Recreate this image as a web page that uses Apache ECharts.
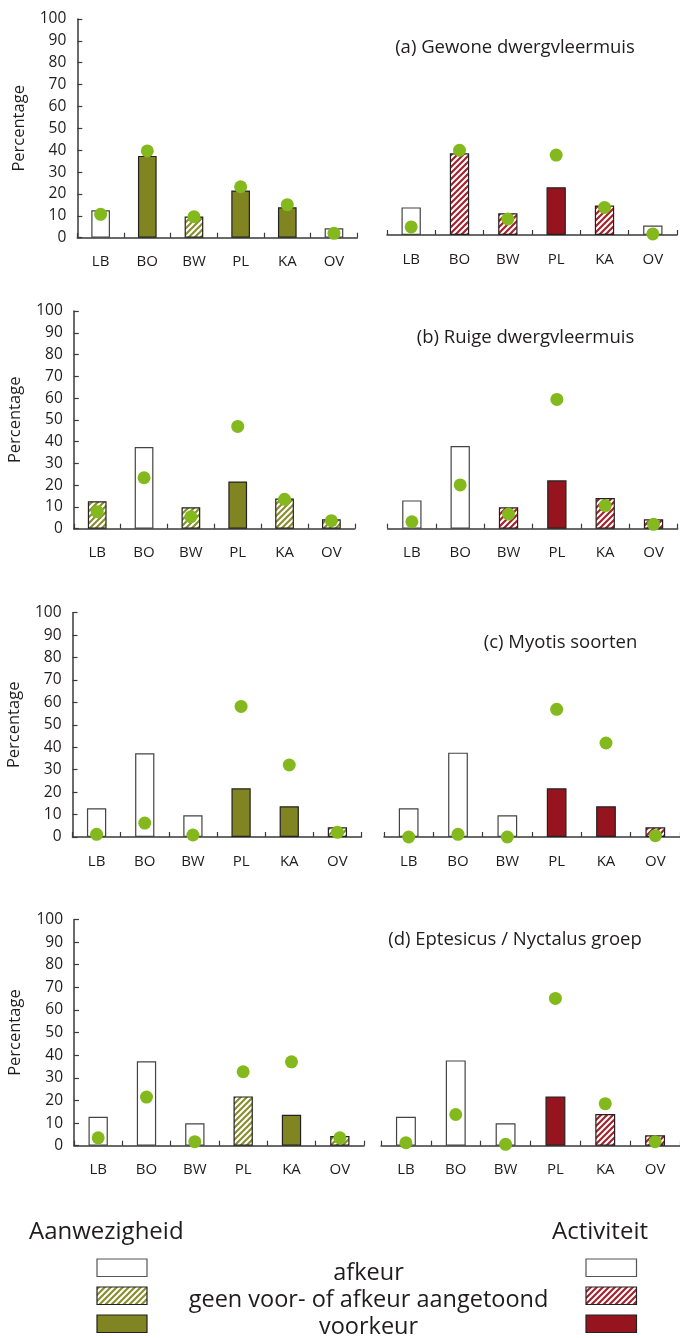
<!DOCTYPE html>
<html>
<head>
<meta charset="utf-8">
<script src="https://cdn.jsdelivr.net/npm/echarts@6/dist/echarts.min.js"></script>
<style>
html,body{margin:0;padding:0;background:#fff;}
#chart{width:680px;height:1338px;}
</style>
</head>
<body>
<div id="chart"></div>
<script>
// ---------- DATA ----------
const categories = ['LB', 'BO', 'BW', 'PL', 'KA', 'OV'];
const yTicks = [0, 10, 20, 30, 40, 50, 60, 70, 80, 90, 100];
const panelTitles = ['(a) Gewone dwergvleermuis', '(b) Ruige dwergvleermuis', '(c) Myotis soorten', '(d) Eptesicus / Nyctalus groep'];
// class codes: 0 = afkeur, 1 = geen voor- of afkeur aangetoond, 2 = voorkeur

// (a) Gewone dwergvleermuis
const aAanwBars  = [12.5, 37.4, 9.7, 21.6, 13.9, 4.3];
const aAanwDots  = [10.7, 39.7, 9.6, 23.3, 15.1, 2.0];
const aAanwClass = [0, 2, 1, 2, 2, 0];
const aActBars   = [12.6, 37.3, 9.9, 21.8, 13.5, 4.3];
const aActDots   = [3.7, 38.7, 7.3, 36.5, 12.6, 0.5];
const aActClass  = [0, 1, 1, 2, 1, 0];

// (b) Ruige dwergvleermuis
const bAanwBars  = [12.6, 37.5, 9.8, 21.7, 13.9, 4.3];
const bAanwDots  = [7.8, 23.4, 5.5, 47.0, 13.5, 3.7];
const bAanwClass = [1, 0, 1, 2, 1, 1];
const bActBars   = [13.0, 38.0, 9.8, 22.2, 14.1, 4.3];
const bActDots   = [3.2, 20.1, 6.7, 59.4, 10.6, 2.0];
const bActClass  = [0, 0, 1, 2, 1, 1];

// (c) Myotis soorten
const cAanwBars  = [12.8, 37.3, 9.7, 21.7, 13.7, 4.3];
const cAanwDots  = [1.2, 6.2, 0.9, 58.2, 32.1, 2.1];
const cAanwClass = [0, 0, 0, 2, 2, 1];
const cActBars   = [12.8, 37.6, 9.7, 21.7, 13.7, 4.3];
const cActDots   = [0.0, 1.2, 0.0, 56.9, 41.9, 0.6];
const cActClass  = [0, 0, 0, 2, 2, 1];

// (d) Eptesicus / Nyctalus groep
const dAanwBars  = [12.8, 37.3, 9.9, 21.8, 13.7, 4.3];
const dAanwDots  = [3.5, 21.5, 1.8, 32.7, 37.1, 3.5];
const dAanwClass = [0, 0, 0, 1, 2, 1];
const dActBars   = [12.8, 37.7, 9.9, 21.8, 14.0, 4.6];
const dActDots   = [1.3, 13.8, 0.6, 65.1, 18.6, 1.8];
const dActClass  = [0, 0, 0, 2, 1, 1];

const legendLabels = ['afkeur', 'geen voor- of afkeur aangetoond', 'voorkeur'];
const legendHeads = ['Aanwezigheid', 'Activiteit'];

// ---------- STYLE ----------
const FONT = '"Open Sans", sans-serif';
const TXT = '#1f1c1d';
const OLIVE = '#808421';
const RED = '#96141e';
const DOT = '#84b91d';
const AXIS = '#3a3a3a';

function hatch(color) {
  const s = 6;
  const c = document.createElement('canvas');
  c.width = s; c.height = s;
  const ctx = c.getContext('2d');
  ctx.fillStyle = '#fff';
  ctx.fillRect(0, 0, s, s);
  ctx.strokeStyle = color;
  ctx.lineWidth = 2.2;
  ctx.beginPath();
  ctx.moveTo(-1, 1); ctx.lineTo(1, -1);
  ctx.moveTo(0, s); ctx.lineTo(s, 0);
  ctx.moveTo(s - 1, s + 1); ctx.lineTo(s + 1, s - 1);
  ctx.stroke();
  return c;
}
const oliveHatch = { image: hatch('#8a8e2e'), repeat: 'repeat' };
const redHatch = { image: hatch('#a4222c'), repeat: 'repeat' };

const fills = {
  aanw: ['#ffffff', oliveHatch, OLIVE],
  act: ['#ffffff', redHatch, RED]
};

// panel layout (pixel geometry)
const panels = [
  { g: { left: 77.3, top: 19, width: 280, height: 218.7 }, bars: aAanwBars, dots: aAanwDots, cls: aAanwClass, kind: 'aanw', yAxis: true },
  { g: { left: 387, top: 16, width: 290, height: 219 }, bars: aActBars, dots: aActDots, cls: aActClass, kind: 'act', yAxis: false },
  { g: { left: 73.8, top: 311, width: 281, height: 217.7 }, bars: bAanwBars, dots: bAanwDots, cls: bAanwClass, kind: 'aanw', yAxis: true },
  { g: { left: 387.7, top: 311, width: 290, height: 217.7 }, bars: bActBars, dots: bActDots, cls: bActClass, kind: 'act', yAxis: false },
  { g: { left: 72.5, top: 612.7, width: 289, height: 224.3 }, bars: cAanwBars, dots: cAanwDots, cls: cAanwClass, kind: 'aanw', yAxis: true },
  { g: { left: 384, top: 612.7, width: 297, height: 224.3 }, bars: cActBars, dots: cActDots, cls: cActClass, kind: 'act', yAxis: false },
  { g: { left: 74, top: 919.5, width: 290, height: 226.2 }, bars: dAanwBars, dots: dAanwDots, cls: dAanwClass, kind: 'aanw', yAxis: true },
  { g: { left: 381, top: 919.5, width: 300, height: 226.2 }, bars: dActBars, dots: dActDots, cls: dActClass, kind: 'act', yAxis: false }
];

const grid = [], xAxis = [], yAxis = [], series = [];
panels.forEach((p, i) => {
  grid.push(Object.assign({ containLabel: false }, p.g));
  xAxis.push({
    type: 'category', gridIndex: i, data: categories,
    axisLine: { show: true, lineStyle: { color: AXIS, width: 1.5 } },
    axisTick: { show: true, inside: true, length: 5, alignWithLabel: false, lineStyle: { color: AXIS, width: 1.2 } },
    axisLabel: { color: TXT, fontFamily: FONT, fontSize: 15, margin: 17 },
    splitLine: { show: false }
  });
  yAxis.push({
    type: 'value', gridIndex: i, min: yTicks[0], max: yTicks[yTicks.length - 1], interval: 10,
    show: p.yAxis,
    name: p.yAxis ? 'Percentage' : '',
    nameLocation: 'middle', nameGap: 50,
    nameTextStyle: { color: TXT, fontFamily: FONT, fontSize: 16.5 },
    axisLine: { show: true, lineStyle: { color: AXIS, width: 1.5 } },
    axisTick: { show: true, inside: true, length: 5, lineStyle: { color: AXIS, width: 1.2 } },
    axisLabel: { color: TXT, fontFamily: FONT, fontSize: 15.5, margin: 11 },
    splitLine: { show: false }
  });
  series.push({
    type: 'bar', xAxisIndex: i, yAxisIndex: i, barWidth: '40%', z: 2,
    data: p.bars.map((v, k) => ({
      value: v,
      itemStyle: {
        color: fills[p.kind][p.cls[k]],
        borderColor: p.cls[k] === 0 ? '#444' : '#222',
        borderWidth: 1.2
      }
    })),
    animation: false
  });
  series.push({
    type: 'scatter', xAxisIndex: i, yAxisIndex: i, symbol: 'circle', symbolSize: 13, z: 5,
    itemStyle: { color: DOT, opacity: 1 },
    data: p.dots,
    animation: false
  });
});

// titles & legend as graphics
const titlePos = [[515, 48], [525.5, 338], [560.5, 643], [515, 940]];
const graphic = [];
panelTitles.forEach((t, i) => {
  graphic.push({ type: 'text', x: titlePos[i][0], y: titlePos[i][1],
    style: { text: t, fill: TXT, font: '18.5px ' + FONT, textAlign: 'center', textVerticalAlign: 'middle' } });
});
graphic.push({ type: 'text', x: 29, y: 1232, style: { text: legendHeads[0], fill: TXT, font: '24px ' + FONT, textAlign: 'left', textVerticalAlign: 'middle' } });
graphic.push({ type: 'text', x: 600, y: 1232, style: { text: legendHeads[1], fill: TXT, font: '24px ' + FONT, textAlign: 'center', textVerticalAlign: 'middle' } });
const rowY = [1259, 1287, 1315];
const textY = [1273, 1300, 1327];
legendLabels.forEach((lab, k) => {
  graphic.push({ type: 'text', x: 368.5, y: textY[k], style: { text: lab, fill: TXT, font: '23.5px ' + FONT, textAlign: 'center', textVerticalAlign: 'middle' } });
  graphic.push({ type: 'rect', shape: { x: 97, y: rowY[k], width: 50, height: 17.5 },
    style: { fill: fills.aanw[k], stroke: k === 0 ? '#555' : '#222', lineWidth: 1.2 } });
  graphic.push({ type: 'rect', shape: { x: 586, y: rowY[k], width: 50.5, height: 17.5 },
    style: { fill: fills.act[k], stroke: k === 0 ? '#555' : '#222', lineWidth: 1.2 } });
});

const chart = echarts.init(document.getElementById('chart'), null, { renderer: 'canvas' });
chart.setOption({
  backgroundColor: '#ffffff',
  animation: false,
  grid, xAxis, yAxis, series, graphic
});
</script>
</body>
</html>
